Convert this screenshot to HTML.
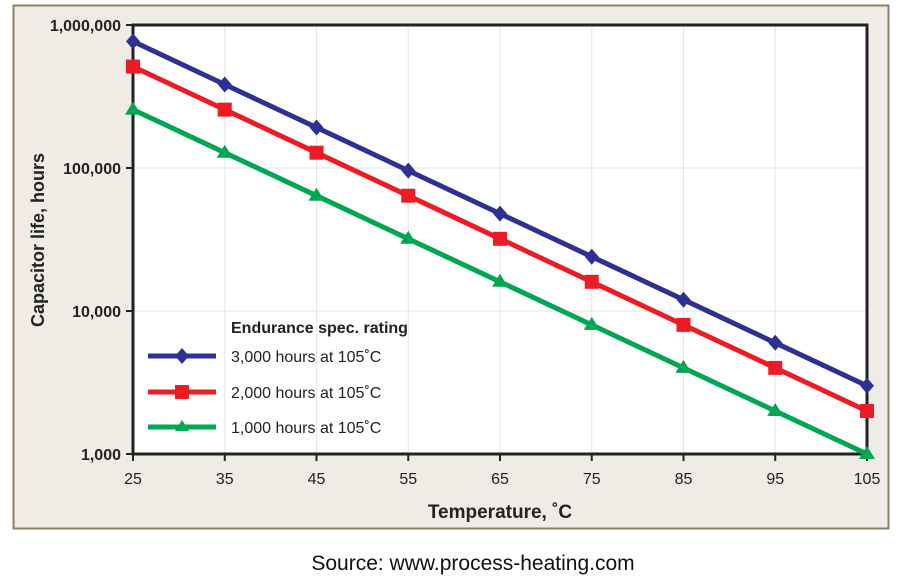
<!DOCTYPE html>
<html><head><style>
body{margin:0;background:#fff;}
svg text{font-family:"Liberation Sans",sans-serif;}
</style></head><body>
<svg width="903" height="577" xmlns="http://www.w3.org/2000/svg">
<rect x="13.5" y="5.5" width="875" height="523" fill="#efebe5" stroke="#8c7f66" stroke-width="2"/>
<rect x="133" y="25" width="734" height="429" fill="#fff"/>
<g stroke="#e6e6e6" stroke-width="1">
<line x1="224.75" y1="25" x2="224.75" y2="454"/><line x1="316.5" y1="25" x2="316.5" y2="454"/>
<line x1="408.25" y1="25" x2="408.25" y2="454"/><line x1="500" y1="25" x2="500" y2="454"/>
<line x1="591.75" y1="25" x2="591.75" y2="454"/><line x1="683.5" y1="25" x2="683.5" y2="454"/>
<line x1="775.25" y1="25" x2="775.25" y2="454"/>
<line x1="133" y1="168" x2="867" y2="168"/><line x1="133" y1="311" x2="867" y2="311"/>
</g>
<g stroke="#222" stroke-width="3" fill="none">
<rect x="133" y="25" width="734" height="429"/>
</g>
<g stroke="#222" stroke-width="2">
<line x1="126" y1="25" x2="133" y2="25"/><line x1="126" y1="168" x2="133" y2="168"/>
<line x1="126" y1="311" x2="133" y2="311"/><line x1="126" y1="454" x2="133" y2="454"/>
<line x1="133" y1="454" x2="133" y2="461"/><line x1="224.75" y1="454" x2="224.75" y2="461"/>
<line x1="316.5" y1="454" x2="316.5" y2="461"/><line x1="408.25" y1="454" x2="408.25" y2="461"/>
<line x1="500" y1="454" x2="500" y2="461"/><line x1="591.75" y1="454" x2="591.75" y2="461"/>
<line x1="683.5" y1="454" x2="683.5" y2="461"/><line x1="775.25" y1="454" x2="775.25" y2="461"/>
<line x1="867" y1="454" x2="867" y2="461"/>
</g>
<g font-size="16" font-weight="bold" fill="#222" text-anchor="end">
<text x="121" y="31">1,000,000</text><text x="121" y="174">100,000</text>
<text x="121" y="317">10,000</text><text x="121" y="460">1,000</text>
</g>
<g font-size="16" fill="#222" text-anchor="middle">
<text x="133" y="484">25</text><text x="224.75" y="484">35</text><text x="316.5" y="484">45</text>
<text x="408.25" y="484">55</text><text x="500" y="484">65</text><text x="591.75" y="484">75</text>
<text x="683.5" y="484">85</text><text x="775.25" y="484">95</text><text x="867" y="484">105</text>
</g>
<text x="500" y="518" font-size="19" font-weight="bold" text-anchor="middle" fill="#222">Temperature, ˚C</text>
<text transform="translate(44,240) rotate(-90)" font-size="18" font-weight="bold" text-anchor="middle" fill="#222">Capacitor life, hours</text>
<polyline fill="none" stroke="#2e3192" stroke-width="5" points="133,41.4 224.75,84.5 316.5,127.5 408.25,170.6 500,213.6 591.75,256.7 683.5,299.7 775.25,342.8 867,385.8"/>
<polyline fill="none" stroke="#ed1c24" stroke-width="5" points="133,66.6 224.75,109.6 316.5,152.7 408.25,195.7 500,238.8 591.75,281.8 683.5,324.9 775.25,367.9 867,411"/>
<polyline fill="none" stroke="#00a651" stroke-width="5" points="133,109.6 224.75,152.7 316.5,195.7 408.25,238.8 500,281.8 591.75,324.9 683.5,367.9 775.25,411 867,454"/>
<g fill="#2e3192">
<path d="M133,33.4l7,8-7,8-7-8z"/><path d="M224.75,76.5l7,8-7,8-7-8z"/><path d="M316.5,119.5l7,8-7,8-7-8z"/>
<path d="M408.25,162.6l7,8-7,8-7-8z"/><path d="M500,205.6l7,8-7,8-7-8z"/><path d="M591.75,248.7l7,8-7,8-7-8z"/>
<path d="M683.5,291.7l7,8-7,8-7-8z"/><path d="M775.25,334.8l7,8-7,8-7-8z"/><path d="M867,377.8l7,8-7,8-7-8z"/>
<path d="M182,348l7,8-7,8-7-8z"/>
</g>
<g fill="#ed1c24">
<rect x="126" y="59.6" width="14" height="14"/><rect x="217.75" y="102.6" width="14" height="14"/>
<rect x="309.5" y="145.7" width="14" height="14"/><rect x="401.25" y="188.7" width="14" height="14"/>
<rect x="493" y="231.8" width="14" height="14"/><rect x="584.75" y="274.8" width="14" height="14"/>
<rect x="676.5" y="317.9" width="14" height="14"/><rect x="768.25" y="360.9" width="14" height="14"/>
<rect x="860" y="404" width="14" height="14"/><rect x="175" y="385" width="14" height="14"/>
</g>
<g fill="#00a651">
<path d="M133,101.6l8,13h-16z"/><path d="M224.75,144.7l8,13h-16z"/><path d="M316.5,187.7l8,13h-16z"/>
<path d="M408.25,230.8l8,13h-16z"/><path d="M500,273.8l8,13h-16z"/><path d="M591.75,316.9l8,13h-16z"/>
<path d="M683.5,359.9l8,13h-16z"/><path d="M775.25,403l8,13h-16z"/><path d="M867,446l8,13h-16z"/>
<path d="M182,420l7,11h-14z"/>
</g>
<line x1="148" y1="356" x2="216" y2="356" stroke="#2e3192" stroke-width="5"/>
<line x1="148" y1="392" x2="216" y2="392" stroke="#ed1c24" stroke-width="5"/>
<line x1="148" y1="427" x2="216" y2="427" stroke="#00a651" stroke-width="5"/>
<text x="231" y="333" font-size="16" font-weight="bold" fill="#222">Endurance spec. rating</text>
<g font-size="16" fill="#222">
<text x="231" y="362">3,000 hours at 105˚C</text>
<text x="231" y="398">2,000 hours at 105˚C</text>
<text x="231" y="433">1,000 hours at 105˚C</text>
</g>
<text x="473" y="570" font-size="21" text-anchor="middle" fill="#111">Source: www.process-heating.com</text>
</svg>
</body></html>
